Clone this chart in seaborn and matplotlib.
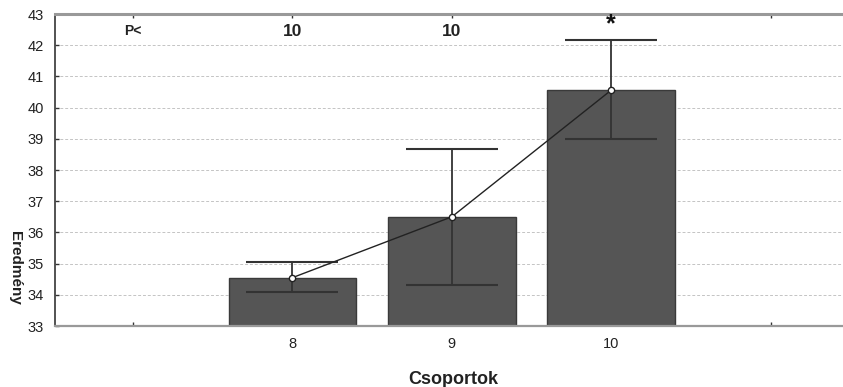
import matplotlib
matplotlib.use("Agg")
import matplotlib.pyplot as plt
import seaborn as sns
import pandas as pd
import numpy as np

# Data
order = [" ", "8", "9", "10", "  "]
groups = ["8", "9", "10"]
means = [34.55, 36.50, 40.56]
lower = [34.10, 34.30, 39.00]
upper = [35.05, 38.67, 42.17]
top_labels = ["P<", "10", "10", "*"]
top_label_cats = [" ", "8", "9", "10"]

sns.set_theme(style="white")
plt.rcParams['font.family'] = ['Liberation Sans', 'DejaVu Sans']

fig = plt.figure(figsize=(8.43, 3.87), dpi=100)
ax = fig.add_axes([55/843, 1-326/387, 1-55/843 + 0.02, (326-14)/387])

df = pd.DataFrame({"Csoportok": groups, "Eredmény": means})
sns.barplot(data=df, x="Csoportok", y="Eredmény", order=order, color="#555555",
            saturation=1, width=0.8, edgecolor="#3a3a3a", linewidth=1.0,
            errorbar=None, ax=ax, zorder=2)

pos = [order.index(g) for g in groups]
m = np.array(means)
yerr = np.vstack([m - np.array(lower), np.array(upper) - m])
ax.errorbar(pos, means, yerr=yerr, fmt="none", ecolor="#333333", elinewidth=1.3,
            capsize=33, capthick=1.5, zorder=3)
ax.plot(pos, means, color="#222222", linewidth=1.0, marker="o", markersize=4.5,
        markerfacecolor="white", markeredgecolor="#222222", markeredgewidth=1.0, zorder=4)

for lab, cat in zip(top_labels, top_label_cats):
    xi = order.index(cat)
    if lab == "*":
        ax.text(xi, 42.68, lab, ha="center", va="center", fontsize=18,
                fontweight="bold", color="#111111", zorder=5)
    else:
        ax.text(xi, 42.45, lab, ha="center", va="center", fontsize=12.5 if lab != "P<" else 10,
                fontweight="bold", color="#222222", zorder=5)

ax.set_ylim(33, 43)
ax.set_xlim(-0.49, 4.56)
ax.set_yticks(range(33, 44))
ax.set_xticks(range(len(order)))
ax.set_xticklabels(["", "8", "9", "10", ""])
ax.yaxis.grid(True, color="#c4c4c4", linestyle=(0, (3, 2)), linewidth=0.7)
ax.set_axisbelow(True)

ax.tick_params(axis="y", direction="in", length=3, width=1, colors="#333333",
               labelsize=10.5, pad=8, left=True)
ax.tick_params(axis="x", direction="in", length=3, width=1, colors="#333333",
               labelsize=10.5, pad=8, bottom=True, top=True)
for lab in ax.get_xticklabels() + ax.get_yticklabels():
    lab.set_color("#222222")

ax.spines["left"].set_color("#444444")
ax.spines["left"].set_linewidth(1.3)
ax.spines["bottom"].set_color("#999999")
ax.spines["bottom"].set_linewidth(1.6)
ax.spines["top"].set_color("#999999")
ax.spines["top"].set_linewidth(2.2)
ax.spines["right"].set_visible(False)

ax.set_xlabel("")
ax.set_ylabel("")
fig.text(453/843, 1-379/387, "Csoportok", ha="center", va="center",
         fontsize=13, fontweight="bold", color="#222222")
fig.text(15/843, 1-268/387, "Eredmény", ha="center", va="center", rotation=270,
         fontsize=11, fontweight="bold", color="#222222")

fig.savefig("out.png", dpi=100)
